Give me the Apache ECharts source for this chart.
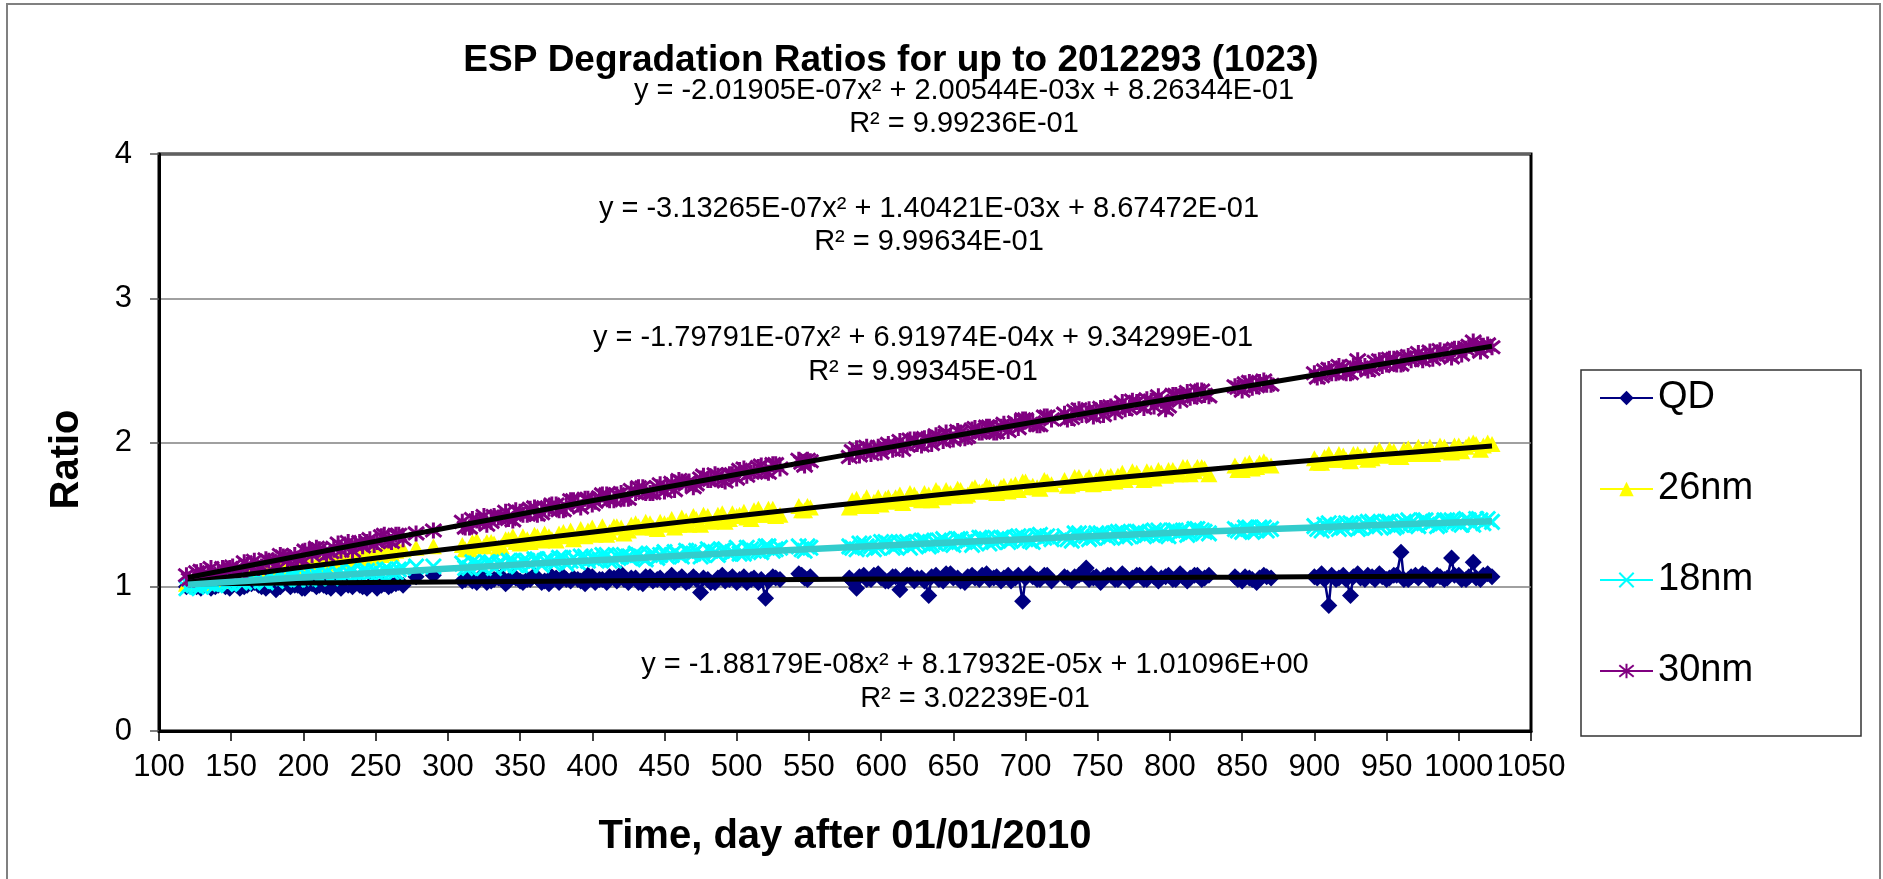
<!DOCTYPE html>
<html><head><meta charset="utf-8">
<script src="https://cdn.jsdelivr.net/npm/echarts@6/dist/echarts.min.js"></script>
<style>html,body{margin:0;padding:0;background:#fff}#c{width:1883px;height:879px}</style>
</head><body><div id="c"></div>
<script>
// ---- data ----
// main sampling days (null values = gaps in the record)
const days = [
  119,124,129,134,139,144,149,154,159,164,169,174,179,184,189,194,199,204,209,214,219,224,229,234,239,244,249,254,259,264,269,
  273,278,284,290,300,
  310,315,320,325,330,335,340,345,350,355,360,365,370,375,380,385,390,395,400,405,410,415,420,425,430,435,440,445,450,455,460,465,470,475,480,485,490,495,500,505,510,515,520,525,530,
  536,543,547,551,565,
  578,583,588,593,598,603,608,613,618,623,628,633,638,643,648,653,658,663,668,673,678,683,688,693,698,703,708,713,718,
  722,
  727,732,737,742,747,752,757,762,767,772,777,782,787,792,797,802,807,812,817,822,827,
  836,
  845,850,855,860,865,870,
  885,
  900,905,910,915,920,925,930,935,940,945,950,955,960,965,970,975,980,985,990,995,1000,1005,1010,1015,1020,1023
];
const qd = [
  1.00,1.01,0.99,1.01,1.00,1.02,0.99,1.01,1.00,1.02,1.01,0.99,1.01,1.00,1.02,1.01,0.99,1.02,1.00,1.01,0.99,1.01,1.02,1.00,1.01,0.99,1.02,1.01,1.00,1.02,1.01,
  null,1.07,null,1.08,null,
  1.04,1.06,1.03,1.07,1.04,1.06,1.02,1.07,1.04,1.05,1.08,1.03,1.02,1.06,1.07,1.04,1.05,1.02,1.07,1.05,1.03,1.06,1.09,1.03,1.06,1.02,1.07,1.05,1.03,1.08,1.05,1.03,1.07,0.96,1.05,1.03,1.08,1.05,1.03,1.07,1.05,1.03,0.92,1.07,1.05,
  null,1.09,1.06,1.07,null,
  1.06,0.99,1.08,1.05,1.09,1.04,1.07,0.98,1.08,1.04,1.06,0.94,1.08,1.04,1.09,1.06,1.03,1.08,1.05,1.09,1.06,1.04,1.08,1.06,0.90,1.09,1.05,1.08,1.04,
  null,
  1.07,1.04,1.08,1.13,1.06,1.03,1.08,1.05,1.09,1.04,1.08,1.05,1.09,1.04,1.07,1.05,1.09,1.04,1.08,1.05,1.08,
  null,
  1.07,1.04,1.06,1.03,1.08,1.06,
  null,
  1.07,1.09,0.87,1.05,1.08,0.94,1.09,1.05,1.07,1.09,1.05,1.08,1.24,1.05,1.08,1.09,1.05,1.08,1.05,1.20,1.08,1.05,1.17,1.05,1.09,1.07
];
const nm26 = [
  1.02,1.05,1.02,1.07,1.06,1.04,1.09,1.07,1.10,1.09,1.08,1.13,1.11,1.10,1.14,1.14,1.11,1.17,1.16,1.15,1.19,1.19,1.18,1.22,1.21,1.22,1.24,1.22,1.25,1.25,1.26,
  null,1.27,null,1.28,null,
  1.29,1.26,1.32,1.28,1.31,1.27,1.33,1.35,1.30,1.33,1.36,1.32,1.35,1.32,1.38,1.39,1.36,1.35,1.41,1.38,1.36,1.42,1.41,1.39,1.44,1.41,1.44,1.40,1.44,1.47,1.43,1.46,1.49,1.43,1.49,1.46,1.51,1.47,1.49,1.52,1.47,1.54,1.50,1.54,1.50,
  null,1.56,1.53,1.55,null,
  1.55,1.61,1.59,1.56,1.62,1.61,1.59,1.64,1.61,1.64,1.60,1.64,1.67,1.62,1.65,1.68,1.63,1.68,1.66,1.70,1.66,1.69,1.66,1.71,1.73,1.69,1.69,1.74,1.71,
  null,
  1.74,1.71,1.76,1.74,1.71,1.77,1.76,1.73,1.79,1.76,1.79,1.74,1.79,1.81,1.77,1.81,1.78,1.83,1.80,1.83,1.78,
  null,
  1.84,1.81,1.86,1.83,1.87,1.84,
  null,
  1.89,1.86,1.92,1.88,1.91,1.87,1.92,1.91,1.89,1.95,1.91,1.94,1.90,1.96,1.94,1.92,1.97,1.94,1.97,1.93,1.98,1.97,2.00,1.95,2.00,1.99
];
const nm18 = [
  0.99,1.01,1.00,1.02,1.01,1.04,1.02,1.06,1.03,1.04,1.07,1.03,1.06,1.08,1.05,1.08,1.06,1.05,1.09,1.08,1.06,1.10,1.08,1.11,1.08,1.11,1.11,1.09,1.12,1.10,1.13,
  null,1.14,null,1.14,null,
  1.16,1.13,1.16,1.13,1.17,1.16,1.14,1.18,1.15,1.18,1.19,1.15,1.19,1.17,1.20,1.18,1.17,1.21,1.20,1.19,1.22,1.18,1.21,1.21,1.23,1.20,1.22,1.20,1.24,1.22,1.22,1.25,1.23,1.21,1.26,1.24,1.25,1.23,1.27,1.23,1.26,1.25,1.28,1.25,1.27,
  null,1.28,1.25,1.27,null,
  1.28,1.26,1.30,1.28,1.27,1.31,1.27,1.30,1.31,1.29,1.32,1.28,1.30,1.33,1.30,1.33,1.31,1.29,1.34,1.33,1.31,1.34,1.31,1.34,1.35,1.32,1.35,1.34,1.33,
  null,
  1.35,1.32,1.37,1.35,1.34,1.37,1.34,1.37,1.38,1.35,1.38,1.35,1.37,1.39,1.36,1.39,1.38,1.36,1.40,1.39,1.37,
  null,
  1.40,1.38,1.41,1.39,1.41,1.40,
  null,
  1.42,1.39,1.44,1.42,1.41,1.44,1.40,1.43,1.45,1.42,1.45,1.41,1.43,1.46,1.43,1.46,1.44,1.42,1.46,1.46,1.44,1.47,1.43,1.46,1.47,1.45
];
const nm30 = [
  1.08,1.05,1.11,1.09,1.07,1.13,1.13,1.11,1.17,1.14,1.13,1.19,1.18,1.22,1.18,1.22,1.19,1.25,1.27,1.24,1.24,1.30,1.28,1.25,1.31,1.31,1.29,1.35,1.32,1.36,1.33,
  null,1.37,null,1.39,null,
  1.45,1.41,1.46,1.49,1.45,1.48,1.52,1.46,1.52,1.50,1.55,1.51,1.54,1.57,1.53,1.60,1.57,1.61,1.57,1.62,1.64,1.60,1.65,1.61,1.65,1.69,1.65,1.69,1.66,1.72,1.74,1.71,1.69,1.75,1.74,1.78,1.74,1.78,1.75,1.82,1.79,1.83,1.80,1.85,1.82,
  null,1.88,1.84,1.87,null,
  1.90,1.96,1.94,1.92,1.97,1.97,1.95,2.01,1.98,2.02,1.98,2.03,2.05,2.01,2.04,2.08,2.03,2.09,2.07,2.11,2.07,2.11,2.08,2.14,2.16,2.13,2.12,2.18,2.16,
  null,
  2.20,2.17,2.23,2.20,2.18,2.24,2.24,2.21,2.28,2.24,2.28,2.24,2.29,2.32,2.23,2.33,2.29,2.35,2.32,2.36,2.32,
  null,
  2.39,2.36,2.42,2.39,2.43,2.40,
  null,
  2.48,2.46,2.51,2.48,2.52,2.48,2.57,2.53,2.51,2.57,2.54,2.58,2.54,2.60,2.58,2.57,2.63,2.60,2.63,2.59,2.65,2.65,2.70,2.63,2.68,2.66
];
// in-between sampling days inside each continuous run
const daysMid = [
  121,126,131,136,141,146,151,156,161,166,171,176,181,186,191,196,201,206,211,216,221,226,231,236,241,246,251,256,261,266,
  312,317,322,327,332,337,342,347,352,357,362,367,372,377,382,387,392,397,402,407,412,417,422,427,432,437,442,447,452,457,462,467,472,477,482,487,492,497,502,507,512,517,522,527,
  545,549,
  580,585,590,595,600,605,610,615,620,625,630,635,640,645,650,655,660,665,670,675,680,685,690,695,700,705,710,715,
  729,734,739,744,749,754,759,764,769,774,779,784,789,794,799,804,809,814,819,824,
  847,852,857,862,867,
  902,907,912,917,922,927,932,937,942,947,952,957,962,967,972,977,982,987,992,997,1002,1007,1012,1017
];
const qdMid = [
  1.01,1.00,1.02,0.99,1.01,1.00,1.02,0.99,1.01,1.03,1.00,1.01,0.98,1.02,1.00,1.01,0.99,1.02,1.01,1.00,1.02,0.99,1.01,1.02,1.00,1.01,0.99,1.02,1.01,1.03,
  1.05,1.04,1.06,1.03,1.05,1.07,1.04,1.06,1.03,1.05,1.06,1.04,1.07,1.03,1.05,1.06,1.04,1.08,1.03,1.05,1.07,1.04,1.05,1.06,1.03,1.07,1.04,1.06,1.05,1.03,1.07,1.04,1.05,1.06,1.03,1.06,1.04,1.07,1.05,1.03,1.06,1.05,1.04,1.06,
  1.08,1.05,
  1.04,1.07,1.05,1.08,1.06,1.04,1.07,1.05,1.08,1.06,1.04,1.07,1.05,1.09,1.06,1.04,1.07,1.06,1.08,1.05,1.07,1.06,1.04,1.08,1.06,1.07,1.05,1.08,
  1.06,1.07,1.09,1.05,1.07,1.06,1.08,1.05,1.07,1.06,1.08,1.05,1.07,1.06,1.08,1.05,1.07,1.06,1.08,1.06,
  1.05,1.07,1.05,1.06,1.07,
  1.06,1.05,1.08,1.06,1.05,1.07,1.06,1.08,1.05,1.07,1.06,1.08,1.05,1.07,1.06,1.08,1.05,1.07,1.06,1.08,1.05,1.07,1.06,1.08
];
const nm26Mid = [
  1.04,1.03,1.07,1.03,1.07,1.09,1.06,1.10,1.08,1.07,1.12,1.11,1.10,1.15,1.12,1.15,1.15,1.13,1.18,1.18,1.16,1.20,1.19,1.20,1.23,1.20,1.23,1.25,1.23,1.26,
  1.26,1.31,1.28,1.31,1.30,1.28,1.33,1.31,1.35,1.31,1.35,1.37,1.33,1.37,1.35,1.33,1.40,1.39,1.36,1.42,1.38,1.42,1.37,1.43,1.42,1.45,1.41,1.45,1.43,1.41,1.48,1.43,1.47,1.50,1.45,1.50,1.45,1.51,1.50,1.48,1.53,1.50,1.54,1.49,
  1.53,1.56,
  1.60,1.56,1.62,1.59,1.57,1.62,1.62,1.58,1.65,1.61,1.65,1.60,1.65,1.67,1.63,1.67,1.64,1.69,1.66,1.69,1.65,1.70,1.70,1.67,1.73,1.70,1.68,1.73,
  1.70,1.76,1.72,1.76,1.74,1.72,1.77,1.77,1.74,1.80,1.76,1.80,1.75,1.79,1.81,1.78,1.83,1.78,1.83,1.82,
  1.81,1.85,1.82,1.86,1.85,
  1.86,1.90,1.88,1.92,1.88,1.92,1.90,1.88,1.93,1.91,1.95,1.90,1.95,1.92,1.97,1.95,1.92,1.98,1.94,1.98,1.94,1.99,1.99,1.98
];
const nm18Mid = [
  1.01,1.00,1.03,1.02,1.04,1.02,1.05,1.03,1.06,1.05,1.04,1.07,1.04,1.06,1.08,1.05,1.09,1.08,1.06,1.10,1.08,1.07,1.10,1.08,1.11,1.09,1.09,1.12,1.10,1.12,
  1.13,1.17,1.15,1.17,1.13,1.17,1.18,1.15,1.18,1.15,1.19,1.18,1.17,1.20,1.16,1.20,1.21,1.18,1.19,1.22,1.18,1.21,1.22,1.20,1.22,1.19,1.23,1.22,1.21,1.24,1.21,1.24,1.25,1.22,1.25,1.22,1.26,1.24,1.23,1.27,1.25,1.24,1.28,1.26,
  1.26,1.28,
  1.27,1.30,1.28,1.26,1.31,1.30,1.28,1.31,1.27,1.31,1.32,1.29,1.32,1.31,1.29,1.33,1.32,1.31,1.34,1.30,1.33,1.34,1.32,1.35,1.33,1.31,1.36,1.35,
  1.33,1.37,1.35,1.33,1.37,1.36,1.35,1.38,1.34,1.37,1.38,1.36,1.39,1.37,1.35,1.39,1.39,1.37,1.40,1.38,
  1.39,1.41,1.38,1.41,1.39,
  1.40,1.43,1.42,1.40,1.44,1.43,1.41,1.45,1.41,1.44,1.45,1.42,1.45,1.44,1.42,1.46,1.45,1.43,1.46,1.45,1.43,1.46,1.47,1.44
];
const nm30Mid = [
  1.05,1.10,1.08,1.13,1.09,1.11,1.14,1.10,1.15,1.18,1.14,1.18,1.15,1.21,1.20,1.19,1.25,1.22,1.26,1.22,1.27,1.25,1.31,1.29,1.28,1.33,1.31,1.36,1.31,1.36,
  1.41,1.47,1.45,1.43,1.49,1.49,1.47,1.53,1.50,1.54,1.50,1.55,1.57,1.53,1.56,1.60,1.55,1.61,1.59,1.64,1.60,1.64,1.61,1.67,1.69,1.65,1.65,1.71,1.69,1.67,1.73,1.73,1.71,1.77,1.74,1.77,1.73,1.78,1.81,1.77,1.80,1.84,1.79,1.85,
  1.86,1.88,
  1.94,1.91,1.97,1.95,1.93,1.99,1.98,1.95,2.02,1.99,2.03,1.99,2.04,2.07,2.02,2.07,2.04,2.10,2.07,2.11,2.07,2.13,2.12,2.10,2.16,2.14,2.12,2.18,
  2.16,2.22,2.19,2.23,2.22,2.19,2.25,2.25,2.23,2.29,2.26,2.30,2.25,2.29,2.25,2.33,2.33,2.31,2.36,2.33,
  2.38,2.41,2.38,2.42,2.40,
  2.45,2.50,2.48,2.53,2.48,2.53,2.52,2.50,2.56,2.53,2.58,2.54,2.59,2.57,2.62,2.60,2.58,2.64,2.61,2.65,2.61,2.67,2.67,2.67
];
// trend lines (Excel polynomial fits)
const trendDays = [120,170,220,270,320,370,420,470,520,570,620,670,720,770,820,870,920,970,1023];
const trendQD   = [1.0205,1.0243,1.0280,1.0317,1.0352,1.0386,1.0420,1.0452,1.0484,1.0515,1.0544,1.0573,1.0601,1.0628,1.0654,1.0679,1.0703,1.0726,1.0749];
const trend26   = [1.0315,1.0971,1.1612,1.2238,1.2847,1.3441,1.4020,1.4583,1.5130,1.5661,1.6177,1.6677,1.7161,1.7630,1.8083,1.8520,1.8942,1.9348,1.9761];
const trend18   = [1.0147,1.0467,1.0778,1.1080,1.1373,1.1657,1.1932,1.2198,1.2455,1.2703,1.2942,1.3172,1.3393,1.3605,1.3808,1.4002,1.4187,1.4363,1.4540];
const trend30   = [1.0641,1.1614,1.2578,1.3531,1.4474,1.5407,1.6330,1.7243,1.8146,1.9038,1.9921,2.0794,2.1656,2.2508,2.3350,2.4183,2.5005,2.5816,2.6666];
const seriesNames = ['QD','26nm','18nm','30nm'];
const eqTexts = [
  'y = -2.01905E-07x\u00B2 + 2.00544E-03x + 8.26344E-01',
  'y = -3.13265E-07x\u00B2 + 1.40421E-03x + 8.67472E-01',
  'y = -1.79791E-07x\u00B2 + 6.91974E-04x + 9.34299E-01',
  'y = -1.88179E-08x\u00B2 + 8.17932E-05x + 1.01096E+00'
];
const r2Texts = ['R\u00B2 = 9.99236E-01','R\u00B2 = 9.99634E-01','R\u00B2 = 9.99345E-01','R\u00B2 = 3.02239E-01'];
const titleText = 'ESP Degradation Ratios for up to 2012293 (1023)';
const xName = 'Time, day after 01/01/2010';
const yName = 'Ratio';

// ---- chart ----
[[qd,qdMid],[nm26,nm26Mid],[nm18,nm18Mid],[nm30,nm30Mid]].forEach((p,i)=>{
  if(p[0].length!==days.length || p[1].length!==daysMid.length) console.error('length mismatch', i, p[0].length, days.length, p[1].length, daysMid.length);
});
const FONT = '"Liberation Sans", Arial, Helvetica, sans-serif';
const pts = (vals, mids) => days.map((d,i)=>[d, vals[i]])
  .concat(daysMid.map((d,i)=>[d, mids[i]]))
  .sort((a,b)=>a[0]-b[0])
  .map(p=>[p[0], p[1]===null || p[1]===undefined ? '-' : p[1]]);
const tr = vals => trendDays.map((d,i)=>[d, vals[i]]);

// equation label placement (centre x, eq y, R² y)
const eqPos = [[964,91,124],[929,209,242],[923,338,372],[975,665,699]];
const graphics = [
  {type:'rect', shape:{x:7,y:4,width:1873,height:900}, style:{fill:'none',stroke:'#808080',lineWidth:2}, silent:true, z:-10},
  {type:'rect', shape:{x:1581,y:370,width:280,height:366}, style:{fill:'none',stroke:'#333',lineWidth:1.5}, silent:true}
];
eqTexts.forEach((t,i)=>{
  const [cx,y1,y2] = eqPos[i];
  graphics.push({type:'text', x:cx, y:y1, silent:true, style:{text:t, fill:'#000', font:'29px '+FONT, align:'center', verticalAlign:'middle', textAlign:'center', textVerticalAlign:'middle'}});
  graphics.push({type:'text', x:cx, y:y2, silent:true, style:{text:r2Texts[i], fill:'#000', font:'29px '+FONT, align:'center', verticalAlign:'middle', textAlign:'center', textVerticalAlign:'middle'}});
});

const dataSeries = (name, vals, mids, symbol, size, color, extraItem) => ({
  name, type:'line', data: pts(vals, mids), symbol, symbolSize:size, showSymbol:true, showAllSymbol:true,
  connectNulls:false, lineStyle:{color, width:2.5}, itemStyle:Object.assign({color}, extraItem||{}),
  emphasis:{disabled:true}, silent:true, z:2
});
const trendSeries = (name, vals, color, w) => ({
  name, type:'line', data: tr(vals), smooth:0.4, symbol:'none', lineStyle:{color, width:w},
  emphasis:{disabled:true}, silent:true, z:3
});

const chart = echarts.init(document.getElementById('c'), null, {renderer:'canvas'});
chart.setOption({
  animation:false,
  backgroundColor:'#fff',
  textStyle:{fontFamily:FONT},
  title:{text:titleText, left:891, top:42, padding:0, textAlign:'center',
    textStyle:{fontSize:37, fontWeight:'bold', color:'#000', fontFamily:FONT}},
  legend:{data:seriesNames, orient:'vertical', left:1599, top:378, padding:0, itemGap:51,
    itemWidth:53, itemHeight:18, selectedMode:false,
    textStyle:{fontSize:38, color:'#000', fontFamily:FONT, lineHeight:40}},
  grid:{left:159, top:154, width:1372, height:577, show:true, borderColor:'#000', borderWidth:3,
    backgroundColor:'transparent', containLabel:false, outerBoundsMode:'none'},
  xAxis:{type:'value', min:100, max:1050, interval:50,
    axisLine:{show:true, onZero:false, lineStyle:{color:'#000', width:3}},
    axisTick:{show:true, length:10, lineStyle:{color:'#000', width:1.5}},
    axisLabel:{fontSize:31, color:'#000', margin:21, fontFamily:FONT, showMinLabel:true, showMaxLabel:true, hideOverlap:false,
      formatter: v => String(v)},
    splitLine:{show:false},
    name:xName, nameLocation:'middle', nameGap:86,
    nameTextStyle:{fontSize:40, fontWeight:'bold', color:'#000', fontFamily:FONT}},
  yAxis:{type:'value', min:0, max:4, interval:1,
    axisLine:{show:true, lineStyle:{color:'#000', width:3}},
    axisTick:{show:true, length:9, lineStyle:{color:'#555', width:1.5}},
    axisLabel:{fontSize:31, color:'#000', margin:27, fontFamily:FONT},
    splitLine:{show:true, lineStyle:{color:'#808080', width:1.5}},
    name:yName, nameLocation:'middle', nameGap:72,
    nameTextStyle:{fontSize:40, fontWeight:'bold', color:'#000', fontFamily:FONT, padding:[0,34,0,0]}},
  graphic:graphics,
  series:[
    dataSeries('QD', qd, qdMid, 'diamond', 17, '#000080'),
    dataSeries('26nm', nm26, nm26Mid, 'triangle', [17,16], '#FFFF00'),
    dataSeries('18nm', nm18, nm18Mid, 'path://M0,0L10,10M10,0L0,10', 15, '#00FFFF', {borderColor:'#00FFFF', borderWidth:3}),
    dataSeries('30nm', nm30, nm30Mid, 'path://M0,1L10,9M10,1L0,9M5,0L5,10', 16, '#800080', {borderColor:'#800080', borderWidth:3}),
    trendSeries('QD trend', trendQD, '#000', 5),
    trendSeries('26nm trend', trend26, '#000', 5),
    trendSeries('18nm trend', trend18, '#33CCCC', 6.5),
    trendSeries('30nm trend', trend30, '#000', 5)
  ]
});
</script>
</body></html>
